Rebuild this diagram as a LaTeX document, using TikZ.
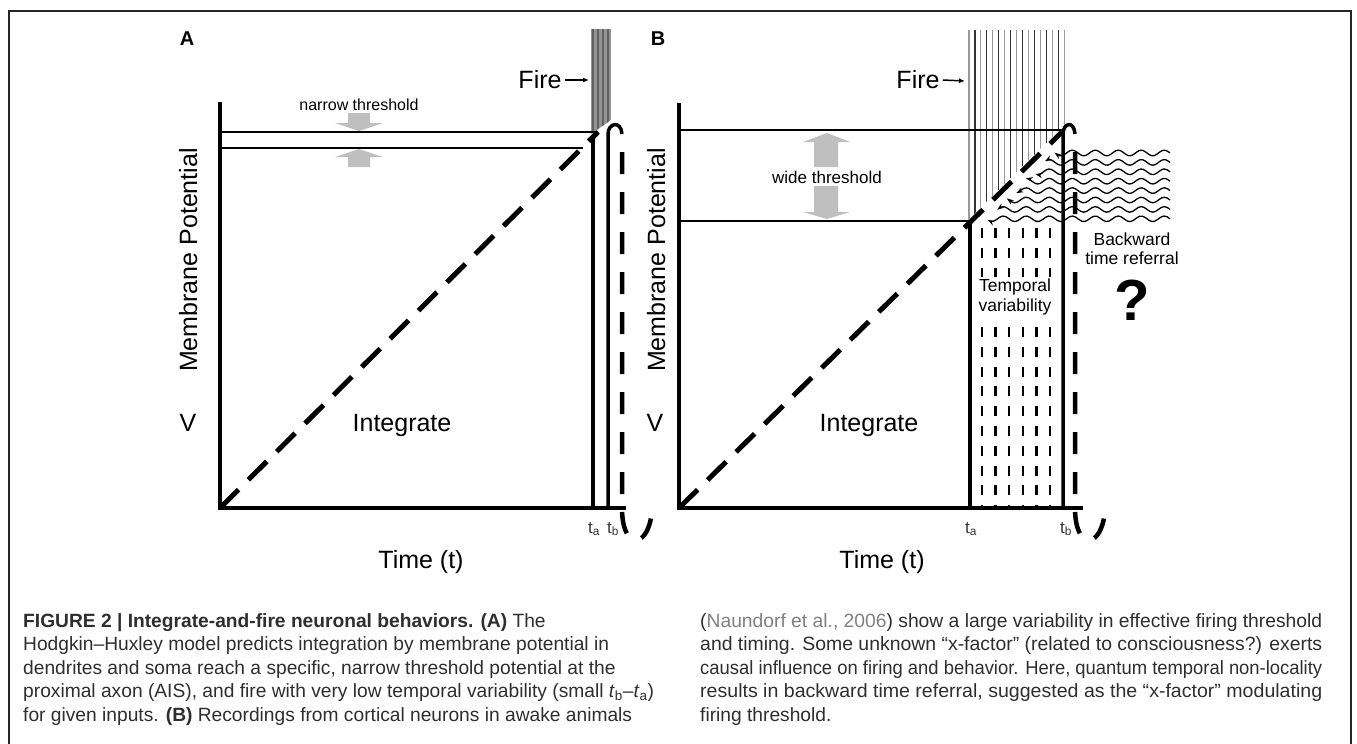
\documentclass[tikz,border=0pt]{standalone}
\usepackage{fontspec}
\setmainfont{Liberation Sans}
\usepackage{graphicx}
\usetikzlibrary{arrows.meta}
\begin{document}
\begin{tikzpicture}[x=1pt,y=-1pt,
  axis/.style={line width=4pt},
  thr/.style={line width=2pt},
  tline/.style={line width=3.5pt},
  diag/.style={line width=5pt,dash pattern=on 26pt off 14pt},
  vdash/.style={line width=4.5pt,dash pattern=on 22pt off 18pt,dash phase=22pt},
  garrow/.style={fill=black!25},
  lab/.style={font=\fontsize{25}{30}\selectfont,inner sep=0pt},
  smalltxt/.style={font=\fontsize{17.5}{20}\selectfont,inner sep=0pt},
  tlab/.style={font=\fontsize{17}{17}\selectfont,text=black!80,inner sep=0pt},
  panel/.style={font=\bfseries\fontsize{20}{20}\selectfont,inner sep=0pt},
  capt/.style={font=\fontsize{19.2}{22}\selectfont,text=black!82,inner sep=0pt,anchor=base west},
  firearrow/.style={line width=1.5pt,-{Latex[length=6pt,width=5pt]}},
  wave/.style={line width=1.3pt,line join=round,-{Stealth[length=7pt,width=5pt]}},
]
\useasboundingbox (0,0) rectangle (1357,744);
% frame
\draw[line width=2pt,black!85] (9,744) -- (9,11) -- (1351,11) -- (1351,744);

% ================= Panel A =================
\node[panel] (labA) at (187,39) {A};
% fire bars
\begin{scope}
  \clip (591,29) -- (611,29) -- (611,120) -- (591,134) -- cycle;
  \fill[black!42] (591,29) rectangle (611,140);
  \foreach \x in {593,598,603,608} \draw[black!62,line width=2.4pt] (\x,29) -- (\x,140);
\end{scope}
\node[lab] (fireA) at (540,80) {Fire};
\coordinate (fireAend) at (589,80);
\draw[firearrow] ([xshift=3pt]fireA.east) -- (fireAend);
% threshold
\draw[thr] (220,132) -- (598,132);
\draw[thr] (220,148) -- (583,148);
\node[font=\fontsize{16}{18}\selectfont,inner sep=0pt] (narrow) at (359,105) {narrow threshold};
\fill[garrow] (348,113) -- (370,113) -- (370,123) -- (383,123) -- (359,131) -- (335,123) -- (348,123) -- cycle;
\fill[garrow] (348,167) -- (370,167) -- (370,157) -- (383,157) -- (359,149) -- (335,157) -- (348,157) -- cycle;
% diagonal
\draw[diag] (220,508) -- (598,132);
% t lines
\draw[tline] (593,508) -- (593,138);
\draw[tline] (608,508) -- (608,134) .. controls (608,123) and (621,120) .. (622,134);
\draw[vdash] (622,134) -- (622,508) .. controls (622,548) and (645,550) .. (651,518);
% axes
\draw[axis] (220,102) -- (220,508) -- (626,508);
\node[lab,rotate=90,anchor=base] (mpA) at (197,260) {Membrane Potential};
\node[lab] (vA) at (188,423) {V};
\node[lab] (intA) at (402,425) {Integrate};
\node[lab] (timeA) at (421,562) {Time (t)};
\node[tlab] (taA) at (594,529) {t\textsubscript{a}};
\node[tlab] (tbA) at (613,529) {t\textsubscript{b}};

% ================= Panel B =================
\node[panel] (labB) at (658,39) {B};
% fire lines
\begin{scope}
  \clip (965,25) -- (1070,25) -- (1070,120) -- (965,223) -- cycle;
  \foreach \i in {0,2,...,16} \draw[black!40,line width=1.1pt] ({969+\i*5.94},30) -- ++(0,200);
  \foreach \i in {1,3,...,15} \draw[black!80,line width=1.1pt] ({969+\i*5.94},30) -- ++(0,200);
\end{scope}
\node[lab] (fireB) at (918,80) {Fire};
\coordinate (fireBend) at (965,81);
\draw[firearrow] ([xshift=3pt]fireB.east) -- (fireBend);
% thresholds
\draw[thr] (679,130) -- (1065,130);
\draw[thr] (679,221) -- (972,221);
\fill[garrow] (814,167) -- (838,167) -- (838,142) -- (850,142) -- (827,133) -- (803,142) -- (814,142) -- cycle;
\fill[garrow] (814,186) -- (838,186) -- (838,212) -- (850,212) -- (827,219) -- (803,212) -- (814,212) -- cycle;
\node[font=\fontsize{17}{19}\selectfont,inner sep=0pt] (wide) at (827,177) {wide threshold};
% temporal variability dashes
\foreach \x in {982,995.6,1009.2,1022.8,1036.4,1050}
  \draw[line width=2.5pt,dash pattern=on 10pt off 9.8pt] (\x,228) -- (\x,508);
\node[smalltxt,fill=white,inner sep=2pt,align=center] (tv) at (1015,297) {Temporal\\variability};
% diagonal
\draw[diag] (679,508) -- (1062,132);
% t lines
\draw[tline] (970,508) -- (970,222);
\draw[tline] (1063,508) -- (1063,134) .. controls (1063,123) and (1074,120) .. (1075,134);
\draw[vdash] (1075,134) -- (1075,508) .. controls (1075,548) and (1098,550) .. (1104,518);
% backward waves
\foreach \k in {0,...,7} {
  \pgfmathsetmacro\wy{153+9.4*\k}
  \pgfmathsetmacro\wd{(679+(508-\wy)/0.9817+14)-1170}
  \draw[wave] (1170,\wy) \foreach \i in {1,...,60} { -- ({1170+\wd*\i/60},{\wy+2.8*sin(15.652*(\wd*\i/60))}) };
}
% axes
\draw[axis] (679,103) -- (679,508) -- (1083,508);
\node[lab,rotate=90,anchor=base] (mpB) at (665,260) {Membrane Potential};
\node[lab] (vB) at (655,423) {V};
\node[lab] (intB) at (869,425) {Integrate};
\node[lab] (timeB) at (882,562) {Time (t)};
\node[tlab] (taB) at (971,529) {t\textsubscript{a}};
\node[tlab] (tbB) at (1066,529) {t\textsubscript{b}};
\node[font=\fontsize{17.5}{19}\selectfont,inner sep=0pt,align=center] (btr) at (1132,249) {Backward\\time referral};
\node[font=\bfseries\fontsize{58}{58}\selectfont,inner sep=0pt] (qm) at (1132,300) {?};

% ================= Caption =================
\node[capt] (c1) at (23,627) {\textbf{FIGURE 2 | Integrate-and-fire neuronal behaviors. (A)} The};
\node[capt] (c2) at (23,650.5) {Hodgkin–Huxley model predicts integration by membrane potential in};
\node[capt] (c3) at (23,674) {dendrites and soma reach a specific, narrow threshold potential at the};
\node[capt] (c4) at (23,697.5) {proximal axon (AIS), and fire with very low temporal variability (small \textit{t}\textsubscript{b}–\textit{t}\textsubscript{a})};
\node[capt] (c5) at (23,721) {for given inputs. \textbf{(B)} Recordings from cortical neurons in awake animals};
\node[capt] (r1) at (700,627) {\resizebox{622pt}{\height}{({\color{black!50}Naundorf et al., 2006}) show a large variability in effective firing threshold}};
\node[capt] (r2) at (700,650.5) {\resizebox{622pt}{\height}{and timing. Some unknown “x-factor” (related to consciousness?) exerts}};
\node[capt] (r3) at (700,674) {\resizebox{622pt}{\height}{causal influence on firing and behavior. Here, quantum temporal non-locality}};
\node[capt] (r4) at (700,697.5) {\resizebox{622pt}{\height}{results in backward time referral, suggested as the “x-factor” modulating}};
\node[capt] (r5) at (700,721) {firing threshold.};
\end{tikzpicture}
\end{document}
